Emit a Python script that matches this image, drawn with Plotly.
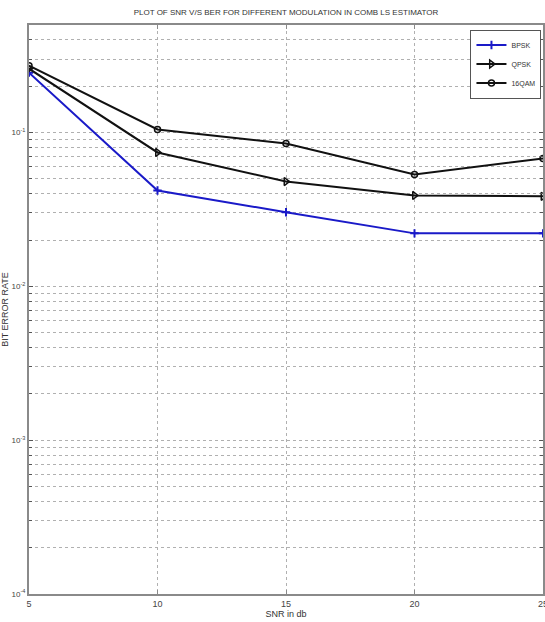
import plotly.graph_objects as go

# SNR (dB) and bit error rate for each modulation, comb-type LS channel estimator
snr_db = [5, 10, 15, 20, 25]
ber_bpsk = [0.245, 0.042, 0.0303, 0.0221, 0.0221]
ber_qpsk = [0.26, 0.0742, 0.048, 0.039, 0.0385]
ber_16qam = [0.272, 0.1046, 0.0849, 0.0534, 0.0678]

x_ticks = [5, 10, 15, 20, 25]
decades = [-4, -3, -2, -1]
y_top = 0.5

# major ticks on powers of ten, minor grid on 2..9 multiples in each decade
y_major = [10.0 ** d for d in decades]
y_major_text = [f"10<sup>{d}</sup>" for d in decades]
y_minor = [m * 10.0 ** d for d in decades for m in range(2, 10) if m * 10.0 ** d <= y_top + 1e-9]

FONT = "Liberation Sans Narrow, Arial Narrow, Liberation Sans, sans-serif"
GRID = "#b0b0b0"

fig = go.Figure()
fig.add_trace(go.Scatter(
    x=snr_db, y=ber_bpsk, name="BPSK", mode="lines+markers",
    line=dict(color="#1a1ac8", width=2),
    marker=dict(symbol="cross-thin", size=6, line=dict(color="#1a1ac8", width=2)),
))
fig.add_trace(go.Scatter(
    x=snr_db, y=ber_qpsk, name="QPSK", mode="lines+markers",
    line=dict(color="#111111", width=2),
    marker=dict(symbol="triangle-right-open", size=7, line=dict(color="#111111", width=1.5)),
))
fig.add_trace(go.Scatter(
    x=snr_db, y=ber_16qam, name="16QAM", mode="lines+markers",
    line=dict(color="#111111", width=2),
    marker=dict(symbol="circle-open", size=6, line=dict(color="#111111", width=1.5)),
))

fig.update_layout(
    width=545, height=622,
    margin=dict(l=29, r=2, t=25, b=28),
    paper_bgcolor="white", plot_bgcolor="white",
    font=dict(family=FONT, size=9, color="#333333"),
    title=dict(text="PLOT OF SNR V/S BER FOR DIFFERENT MODULATION IN COMB LS ESTIMATOR",
               x=0.5, xref="paper", y=0.981, yanchor="middle",
               font=dict(family=FONT, size=8, color="#333333")),
    legend=dict(x=0.997, y=0.992, xanchor="right", yanchor="top",
                bordercolor="#555555", borderwidth=1, bgcolor="white",
                font=dict(family=FONT, size=7, color="#333333"),
                itemwidth=30, tracegroupgap=0),
    showlegend=True,
)

fig.update_xaxes(
    range=[5, 25], tickvals=x_ticks, ticktext=[str(v) for v in x_ticks],
    ticklabeloverflow="allow", automargin=False,
    showgrid=True, gridcolor=GRID, griddash="dot", gridwidth=1,
    showline=True, linecolor="#8a8a8a", linewidth=2, mirror="ticks",
    ticks="inside", ticklen=4, tickcolor="#8a8a8a",
    zeroline=False,
    title=dict(text="SNR in db", standoff=2, font=dict(family=FONT, size=9)),
    tickfont=dict(family=FONT, size=9, color="#444444"),
)
fig.update_yaxes(
    type="log", range=[-4, -0.30103],
    tickvals=y_major, ticktext=y_major_text,
    ticklabeloverflow="allow", automargin=False,
    showgrid=True, gridcolor=GRID, griddash="dot", gridwidth=1,
    minor=dict(tickvals=y_minor, showgrid=True, gridcolor=GRID, griddash="dot",
               gridwidth=1, ticks="inside", ticklen=3, tickcolor="#555555"),
    showline=True, linecolor="#8a8a8a", linewidth=2, mirror="ticks",
    ticks="inside", ticklen=4, tickcolor="#555555",
    zeroline=False,
    title=dict(text="BIT ERROR RATE", standoff=6, font=dict(family=FONT, size=9)),
    tickfont=dict(family=FONT, size=8, color="#444444"),
)

fig.write_html("out.html")
